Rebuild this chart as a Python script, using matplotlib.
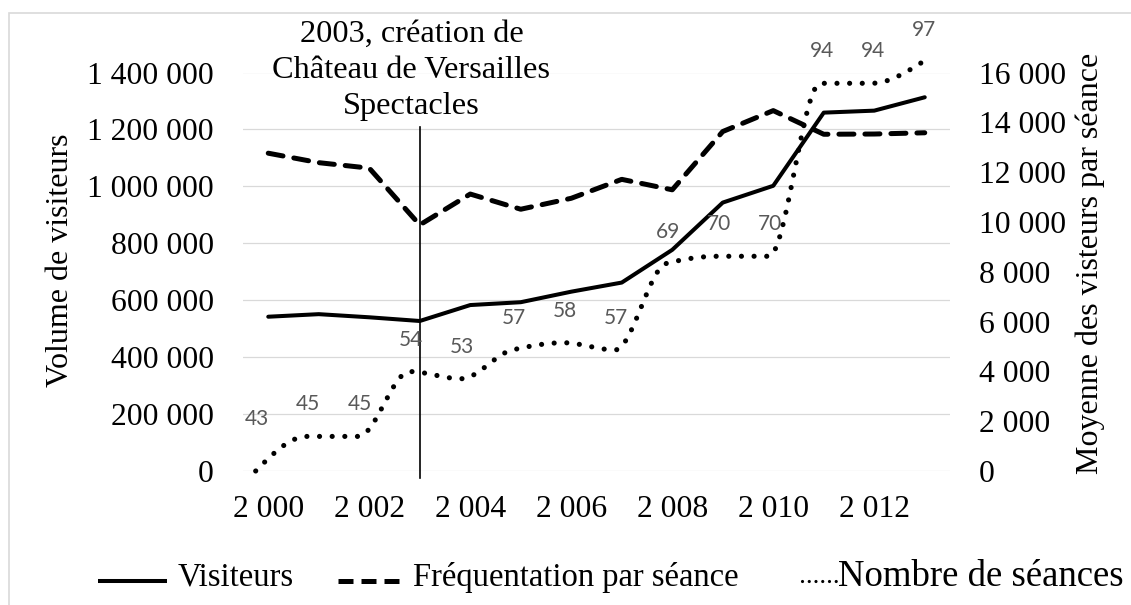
import numpy as np
import matplotlib
matplotlib.use("Agg")
import matplotlib.pyplot as plt
from matplotlib.lines import Line2D
from matplotlib.patches import Rectangle
from matplotlib.ticker import FuncFormatter, MultipleLocator

# ---------------- data ----------------
annees = list(range(2000, 2014))
visiteurs = [542000, 551000, 540000, 527000, 583000, 593000, 630000,
             662000, 777000, 943000, 1002000, 1259000, 1266000, 1313000]
frequentation = [12760, 12380, 12160, 9880, 11120, 10510, 10950,
                 11710, 11290, 13630, 14470, 13520, 13530, 13580]
seances = [43, 45, 45, 54, 53, 57, 58, 57, 69, 70, 70, 94, 94, 97]
# curve as drawn (first point drawn at the bottom of its scale)
seances_courbe = [40.2, 45, 45, 54, 53, 57, 58, 57, 69, 70, 70, 94, 94, 97]
annees_ticks = [2000, 2002, 2004, 2006, 2008, 2010, 2012]
annee_evenement = 2003
texte_evenement = "2003, création de\nChâteau de Versailles\nSpectacles"
noms_series = ["Visiteurs", "Fréquentation par séance", "Nombre de séances"]
titre_gauche = "Volume de visiteurs"
titre_droite = "Moyenne des visteurs par séance"

# ---------------- style ----------------
W, H = 1131, 605
SERIF = "Liberation Serif"
FS = 22.8
GRID = "#d9d9d9"
plt.rcParams["font.family"] = SERIF

fig = plt.figure(figsize=(W / 100, H / 100), dpi=100)

def px_rect(x0, y0, x1, y1):
    return [x0 / W, 1 - y1 / H, (x1 - x0) / W, (y1 - y0) / H]

rect = px_rect(243, 72.5, 950, 471)
ax = fig.add_axes(rect)
ax2 = ax.twinx()

def fmt_milliers(v, pos=None):
    return f"{int(round(v)):,}".replace(",", " ")

# main series
ax.plot(annees, visiteurs, color="black", lw=2.9, solid_joinstyle="round",
        solid_capstyle="round", zorder=3)
ax2.plot(annees, frequentation, color="black", lw=3.6, linestyle=(0, (3.0, 2.2)),
         dash_capstyle="round", dash_joinstyle="round", zorder=3)

ax.set_xlim(1999.5, 2013.5)
ax.set_ylim(0, 1400000)
ax2.set_ylim(0, 16000)
ax.yaxis.set_major_locator(MultipleLocator(200000))
ax2.yaxis.set_major_locator(MultipleLocator(2000))
ax.set_xticks(annees_ticks)
ax.xaxis.set_major_formatter(FuncFormatter(fmt_milliers))
ax.yaxis.set_major_formatter(FuncFormatter(fmt_milliers))
ax2.yaxis.set_major_formatter(FuncFormatter(fmt_milliers))

ax.yaxis.grid(True, color=GRID, lw=0.9)
ax.set_axisbelow(True)
for a in (ax, ax2):
    for s in a.spines.values():
        s.set_visible(False)
ax.tick_params(axis="x", length=0, labelsize=FS, pad=17)
ax.tick_params(axis="y", length=0, labelsize=FS, pad=21)
ax2.tick_params(axis="y", length=0, labelsize=FS, pad=21)

ax.set_ylabel(titre_gauche, fontsize=23, va="center")
ax.yaxis.set_label_coords((60 - 243) / 707, (471 - 260) / 398.5)
ax2.set_ylabel(titre_droite, fontsize=23, va="center", rotation=90)
ax2.yaxis.set_label_coords((1090 - 243) / 707, (471 - 263) / 398.5)

# event line + annotation
ax.axvline(annee_evenement, ymin=-7 / 398.5, ymax=(471 - 127) / 398.5,
           color="black", lw=1.2, clip_on=False, zorder=4)
ax.annotate(texte_evenement, xy=(annee_evenement, 1.0),
            xycoords=("data", "axes fraction"), xytext=(-6, 38),
            textcoords="offset points", ha="center", va="top",
            fontsize=23.3, linespacing=1.33, multialignment="center")

# ---------------- séances (overlay axes) ----------------
ax3 = fig.add_axes(rect)
ax3.set_xlim(1999.753, 2013.526)
ax3.set_ylim(40.2, 95.5)
ax3.axis("off")
ax3.patch.set_visible(False)

def lissage_monotone(xs, ys, n=30):
    """Monotone cubic Hermite smoothing (like a spreadsheet 'smoothed line')."""
    x = np.asarray(xs, float)
    y = np.asarray(ys, float)
    h = np.diff(x)
    d = np.diff(y) / h
    m = np.zeros_like(y)
    for k in range(1, len(y) - 1):
        if d[k - 1] * d[k] > 0:
            w1 = 2 * h[k] + h[k - 1]
            w2 = h[k] + 2 * h[k - 1]
            m[k] = (w1 + w2) / (w1 / d[k - 1] + w2 / d[k])
    def bout(h0, h1, d0, d1):
        mm = ((2 * h0 + h1) * d0 - h0 * d1) / (h0 + h1)
        if np.sign(mm) != np.sign(d0):
            mm = 0.0
        elif np.sign(d0) != np.sign(d1) and abs(mm) > abs(3 * d0):
            mm = 3 * d0
        return mm
    m[0] = bout(h[0], h[1], d[0], d[1])
    m[-1] = bout(h[-1], h[-2], d[-1], d[-2])
    X, Y = [], []
    for k in range(len(x) - 1):
        t = np.linspace(0, 1, n, endpoint=(k == len(x) - 2))
        h00 = 2 * t**3 - 3 * t**2 + 1
        h10 = t**3 - 2 * t**2 + t
        h01 = -2 * t**3 + 3 * t**2
        h11 = t**3 - t**2
        X.append(x[k] + t * h[k])
        Y.append(h00 * y[k] + h10 * h[k] * m[k] + h01 * y[k + 1] + h11 * h[k] * m[k + 1])
    return np.concatenate(X), np.concatenate(Y)

cx, cy = lissage_monotone(annees, seances_courbe)
ax3.plot(cx, cy, color="black", lw=3.7, linestyle=(0, (0.01, 2.45)),
         dash_capstyle="round", clip_on=False, zorder=5)
for x, n in zip(annees, seances):
    ax3.annotate(str(n), xy=(x, n), xytext=(1, 23), textcoords="offset points",
                 ha="center", va="center", fontsize=15, family="Lato",
                 color="#595959", annotation_clip=False)

# ---------------- legend (drawn manually) ----------------
def px(x, y):
    return x / W, 1 - y / H

ly, lt = 581, 586
leg_items = [
    (98, 167, dict(lw=2.9, color="black", solid_capstyle="butt"), 178, noms_series[0], 23.5),
    (338, 405, dict(lw=3.6, color="black", linestyle=(0, (3.0, 1.6)),
                    dash_capstyle="butt"), 413, noms_series[1], 23.5),
    (802, 836, dict(lw=2.3, color="black", linestyle=(0, (0.01, 2.1)),
                    dash_capstyle="round"), 838, noms_series[2], 26.5),
]
for x0, x1, kw, xt, txt, fs in leg_items:
    (fx0, fy), (fx1, _) = px(x0, ly), px(x1, ly)
    fig.add_artist(Line2D([fx0, fx1], [fy, fy], transform=fig.transFigure, **kw))
    tx, ty = px(xt, lt)
    fig.text(tx, ty, txt, fontsize=fs, ha="left", va="baseline")

# outer chart border
bx, by = px(9, 13)
fig.add_artist(Rectangle((bx, -0.1), 2, by + 0.1, transform=fig.transFigure,
                         fill=False, edgecolor=GRID, lw=1.2))

fig.savefig("out.png", dpi=100)
